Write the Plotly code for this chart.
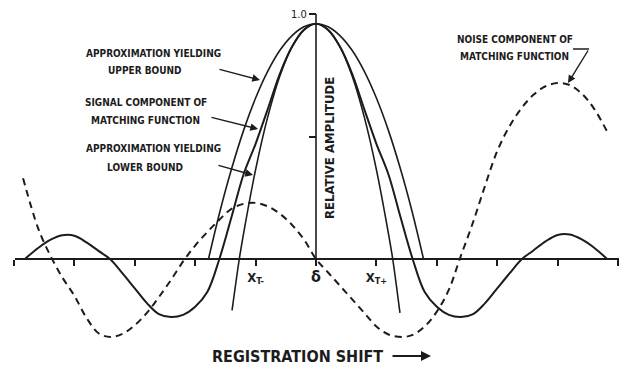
import plotly.graph_objects as go

# ---- data (x = registration shift, y = relative amplitude)
signal_x = [-4.82, -4.6, -4.4, -4.2, -4.0, -3.8, -3.6, -3.41, -3.2, -3.0, -2.8, -2.6, -2.4, -2.2, -2.0, -1.8, -1.6,
            -1.4, -1.2, -1.0, -0.8, -0.6, -0.4, -0.2, 0.0, 0.2, 0.4, 0.6, 0.8, 1.0, 1.2, 1.4, 1.6, 1.8, 2.0, 2.2,
            2.4, 2.6, 2.8, 3.0, 3.2, 3.41, 3.6, 3.8, 4.0, 4.2, 4.4, 4.6, 4.82]
signal_y = [0.0, 0.045, 0.078, 0.097, 0.095, 0.068, 0.033, 0.0, -0.06, -0.12, -0.18, -0.225, -0.237, -0.228, -0.195,
            -0.135, 0.0, 0.17, 0.345, 0.47, 0.611, 0.755, 0.865, 0.935, 0.960, 0.935, 0.865, 0.755, 0.611, 0.47,
            0.345, 0.17, 0.0, -0.135, -0.195, -0.228, -0.237, -0.225, -0.18, -0.12, -0.06, 0.0, 0.035, 0.072,
            0.098, 0.100, 0.080, 0.047, 0.0]

upper_x = [-1.78, -1.6, -1.4, -1.2, -1.0, -0.8, -0.6, -0.4, -0.2, 0.0, 0.2, 0.4, 0.6, 0.8, 1.0, 1.2, 1.4, 1.6, 1.78]
upper_y = [0.0, 0.185, 0.366, 0.524, 0.657, 0.766, 0.851, 0.911, 0.948, 0.960, 0.948, 0.911, 0.851, 0.766, 0.657,
           0.524, 0.366, 0.185, 0.0]

lower_x = [-1.39, -1.27, -1.2, -1.0, -0.8, -0.6, -0.4, -0.2, 0.0, 0.2, 0.4, 0.6, 0.8, 1.0, 1.2, 1.27, 1.39]
lower_y = [-0.21, 0.0, 0.103, 0.365, 0.579, 0.746, 0.865, 0.936, 0.960, 0.936, 0.865, 0.746, 0.579, 0.365, 0.103,
           0.0, -0.22]

noise_x = [-4.85, -4.6, -4.4, -4.2, -4.0, -3.8, -3.6, -3.4, -3.2, -3.0, -2.8, -2.6, -2.4, -2.2, -2.0, -1.8, -1.6,
           -1.4, -1.2, -1.0, -0.8, -0.6, -0.4, -0.2, 0.0, 0.2, 0.4, 0.6, 0.8, 1.0, 1.2, 1.44, 1.6, 1.8, 2.0, 2.2,
           2.38, 2.6, 2.8, 3.0, 3.2, 3.4, 3.6, 3.8, 4.0, 4.2, 4.4, 4.6, 4.85]
noise_y = [0.330, 0.125, 0.015, -0.075, -0.150, -0.240, -0.303, -0.318, -0.305, -0.270, -0.220, -0.155, -0.085,
           -0.010, 0.055, 0.110, 0.160, 0.205, 0.225, 0.229, 0.215, 0.185, 0.140, 0.080, 0.0, -0.055, -0.110,
           -0.165, -0.220, -0.275, -0.308, -0.318, -0.310, -0.275, -0.215, -0.125, 0.0, 0.150, 0.300, 0.440,
           0.540, 0.615, 0.670, 0.705, 0.718, 0.710, 0.675, 0.615, 0.506]

shift_label_ticks = [-1, 0, 1]
shift_labels = ["<b>X<sub>T-</sub></b>", "<b><span style='font-size:16px'>δ</span></b>", "<b>X<sub>T+</sub></b>"]
shift_tick_start, shift_tick_step = -5, 1
amp_label_ticks = [1.0]
amp_labels = ["1.0"]
amp_tick_step = 0.5

# ---- page geometry (the page body has an 8 px margin, so the figure is 8 px smaller)
PAGE_W, PAGE_H = 627, 372
OFF = 8
W, H = PAGE_W - OFF, PAGE_H - OFF
X0, XS = 316, 60.4   # page pixel of x=0, pixels per unit
Y0, YS = 259, 245    # page pixel of y=0, pixels per unit


def ux(px):
    return (px - X0) / XS


def uy(py):
    return (Y0 - py) / YS


INK = "#1c1c1c"
FONT = "DejaVu Sans Condensed, Liberation Sans Narrow, Arial Narrow, sans-serif"

fig = go.Figure()
fig.add_trace(go.Scatter(x=signal_x, y=signal_y, mode="lines",
                         line=dict(color=INK, width=2, shape="spline", smoothing=1.0), hoverinfo="skip"))
fig.add_trace(go.Scatter(x=upper_x, y=upper_y, mode="lines",
                         line=dict(color=INK, width=1.6, shape="spline", smoothing=1.0), hoverinfo="skip"))
fig.add_trace(go.Scatter(x=lower_x, y=lower_y, mode="lines",
                         line=dict(color=INK, width=1.6, shape="spline", smoothing=1.0), hoverinfo="skip"))
fig.add_trace(go.Scatter(x=noise_x, y=noise_y, mode="lines",
                         line=dict(color=INK, width=2, shape="spline", smoothing=1.0, dash="7px,5px"),
                         hoverinfo="skip"))

# axis lines drawn in data coordinates
fig.add_shape(type="line", x0=ux(15), x1=ux(619), y0=0, y1=0, xref="x", yref="y", line=dict(color=INK, width=2))
fig.add_shape(type="line", x0=0, x1=0, y0=0, y1=1.0, xref="x", yref="y", line=dict(color=INK, width=1.6))
# bent leader for noise label
fig.add_shape(type="line", x0=ux(573), x1=ux(589), y0=uy(49), y1=uy(49), xref="x", yref="y",
              line=dict(color=INK, width=1.5))

ann = []


def label(text, px, py, size=10, angle=0):
    ann.append(dict(text=text, x=ux(px), y=uy(py), xref="x", yref="y", showarrow=False,
                    font=dict(family=FONT, size=size, color=INK), textangle=angle,
                    xanchor="center", yanchor="middle"))


def arrow(tip_px, tip_py, tail_px, tail_py, width=1.4, size=1.1):
    ann.append(dict(text="", x=ux(tip_px), y=uy(tip_py), xref="x", yref="y", showarrow=True,
                    ax=tail_px - tip_px, ay=tail_py - tip_py, axref="pixel", ayref="pixel",
                    arrowhead=2, arrowsize=size, arrowwidth=width, arrowcolor=INK, standoff=0))


label("<b>APPROXIMATION YIELDING</b>", 153, 53)
label("<b>UPPER BOUND</b>", 145, 70)
label("<b>SIGNAL COMPONENT OF</b>", 146, 102)
label("<b>MATCHING FUNCTION</b>", 145, 120)
label("<b>APPROXIMATION YIELDING</b>", 153, 148)
label("<b>LOWER BOUND</b>", 145, 167)
label("<b>NOISE COMPONENT OF</b>", 515, 39)
label("<b>MATCHING FUNCTION</b>", 514, 56)
label("<b>RELATIVE AMPLITUDE</b>", 329, 148, size=13, angle=-90)
label("<b>REGISTRATION SHIFT</b>", 297, 356, size=16)

arrow(260, 80, 218, 69)
arrow(258, 129, 210, 117)
arrow(253, 175, 217, 165)
arrow(568, 83, 589, 49)
arrow(431, 356, 391, 356, width=2, size=1.0)

fig.update_layout(
    width=W, height=H, margin=dict(l=0, r=0, t=0, b=0, autoexpand=False),
    paper_bgcolor="white", plot_bgcolor="white", showlegend=False,
    annotations=ann,
    xaxis=dict(range=[ux(OFF), ux(PAGE_W)], domain=[0, 1], anchor="free",
               position=(PAGE_H - Y0) / H, automargin=False,
               showgrid=False, zeroline=False, showline=False,
               tickmode="array", tickvals=shift_label_ticks, ticktext=shift_labels,
               ticks="outside", ticklen=6, tickwidth=1.5, tickcolor=INK,
               ticklabeloverflow="allow",
               minor=dict(tick0=shift_tick_start, dtick=shift_tick_step, ticks="outside", ticklen=6,
                          tickwidth=1.5, tickcolor=INK, showgrid=False),
               tickfont=dict(family=FONT, size=13, color=INK)),
    yaxis=dict(range=[uy(PAGE_H), uy(OFF)], domain=[0, 1], anchor="free",
               position=(X0 - OFF) / W, automargin=False,
               showgrid=False, zeroline=False, showline=False,
               tickmode="array", tickvals=amp_label_ticks, ticktext=amp_labels,
               ticks="outside", ticklen=7, tickwidth=1.5, tickcolor=INK,
               ticklabeloverflow="allow",
               minor=dict(tick0=0, dtick=amp_tick_step, ticks="outside", ticklen=7,
                          tickwidth=1.5, tickcolor=INK, showgrid=False),
               tickfont=dict(family=FONT, size=11, color=INK)),
)

fig.write_html("out.html")
